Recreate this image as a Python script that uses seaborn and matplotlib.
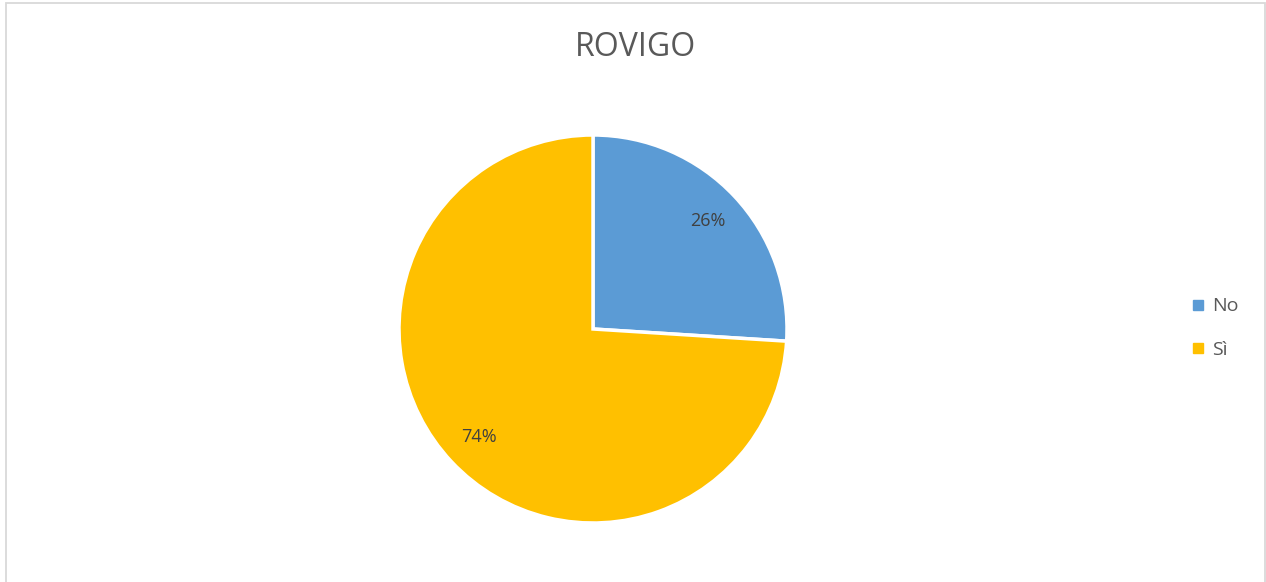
import matplotlib
matplotlib.use("Agg")
import matplotlib.pyplot as plt
import seaborn as sns
from matplotlib.lines import Line2D
from matplotlib.patches import Rectangle

categories = ["No", "Sì"]
values = [26, 74]
colors = ["#5B9BD5", "#FFC000"]
title = "ROVIGO"

sns.set_style("white")
plt.rcParams['font.family'] = ['Open Sans', 'DejaVu Sans']

W, H = 1266, 582
fig = plt.figure(figsize=(W / 100, H / 100), dpi=100)

# chart frame
fig.patches.append(Rectangle((6 / W, -0.01), (1265 - 6) / W, (H - 3) / H + 0.01,
                             transform=fig.transFigure, fill=False,
                             edgecolor="#D9D9D9", linewidth=1.3))

cx, cy, r = 593, 329, 194
ax = fig.add_axes([(cx - r) / W, (H - cy - r) / H, 2 * r / W, 2 * r / H])
wedges, texts, autotexts = ax.pie(
    values, colors=colors, startangle=90, counterclock=False,
    autopct="%1.0f%%", pctdistance=0.81,
    wedgeprops=dict(edgecolor="white", linewidth=2.5),
    textprops=dict(color="#404040", fontsize=13))
ax.set_xlim(-1, 1)
ax.set_ylim(-1, 1)
ax.set_aspect("auto")
ax.axis("off")

fig.text(636 / W, 1 - 48 / H, title, ha="center", va="center",
         fontsize=23, color="#595959")

handles = [Line2D([0], [0], marker="s", linestyle="", markersize=7,
                  markerfacecolor=c, markeredgecolor=c) for c in colors]
fig.legend(handles, categories, loc="center left",
           bbox_to_anchor=(1175 / W, 1 - 328 / H), frameon=False,
           fontsize=14, labelcolor="#595959", handlelength=0.6,
           handletextpad=0.4, labelspacing=1.3)

fig.savefig("out.png", dpi=100)
